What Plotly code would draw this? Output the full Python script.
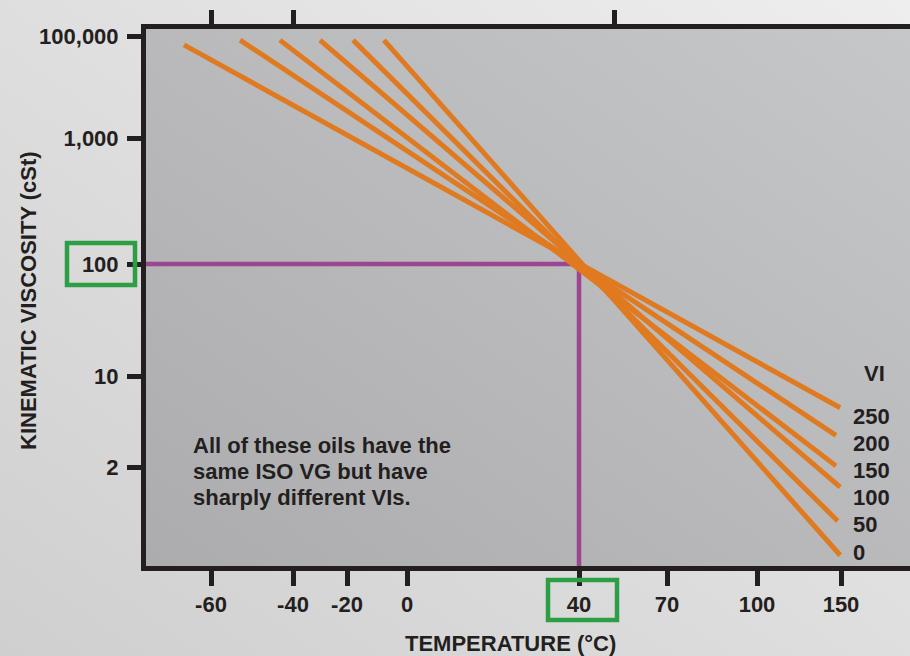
import base64
import numpy as np
import plotly.graph_objects as go

# ---------------- data ----------------
TEMP_TICKS = [-60, -40, -20, 0, 40, 70, 100, 150]
TEMP_LABELS = ["-60", "-40", "-20", "0", "40", "70", "100", "150"]
VISC_TICKS = [100000, 1000, 100, 10, 2]
VISC_LABELS = ["100,000", "1,000", "100", "10", "2"]

VI_VALUES = [250, 200, 150, 100, 50, 0]
T_START = [-66.6, -52.9, -43.2, -30.0, -18.0, -7.7]      # degC
V_START = [67000, 83000, 83000, 83000, 83000, 83000]     # cSt
T_END = [149.5, 147.0, 147.0, 149.5, 148.0, 149.5]       # degC
V_END = [5.7, 3.5, 2.04, 1.40, 0.77, 0.42]               # cSt

REF_TEMP = 40      # degC
REF_VISC = 100     # cSt (ISO VG)
TOP_TICK_TEMPS = [-60, -40, 52]

# ---------------- chart's printed (non-uniform) scales ----------------
W, H = 910, 656
ML, MR, MT, MB = 146, 0, 29, 90
PW, PH = W - ML - MR, H - MT - MB
X_SCALE_TEMPS = [-60, -40, -20, 0, 40, 70, 100, 150]
X_SCALE_POS = [65, 147, 201, 261, 433, 521, 611, 695]
Y_SCALE_LOG = list(np.log10([2, 10, 100, 1000, 100000]))
Y_SCALE_POS = [99, 190, 302, 428, 530]


def piecewise(v, src, dst):
    v = np.asarray(v, dtype=float)
    out = np.interp(v, src, dst)
    lo = v < src[0]
    hi = v > src[-1]
    s0 = (dst[1] - dst[0]) / (src[1] - src[0])
    s1 = (dst[-1] - dst[-2]) / (src[-1] - src[-2])
    out = np.where(lo, dst[0] + (v - src[0]) * s0, out)
    out = np.where(hi, dst[-1] + (v - src[-1]) * s1, out)
    return out


def sx(t):
    return piecewise(t, X_SCALE_TEMPS, X_SCALE_POS)


def sy(v):
    return piecewise(np.log10(v), Y_SCALE_LOG, Y_SCALE_POS)


def px(p):  # canvas pixel x -> paper
    return (p - ML) / PW


def py(p):  # canvas pixel y -> paper
    return (H - MB - p) / PH


INK = "#231f20"
ORANGE = "#e07a20"
PURPLE = "#9c4692"
GREEN = "#2e9e45"
FONT = dict(family="Liberation Sans, Arial, sans-serif", size=22, color=INK, weight="bold")

fig = go.Figure()

# guide line (ISO VG reference)
fig.add_trace(go.Scatter(
    x=[0, float(sx(REF_TEMP)), float(sx(REF_TEMP))],
    y=[float(sy(REF_VISC)), float(sy(REF_VISC)), 0],
    mode="lines", line=dict(color=PURPLE, width=4.5),
    showlegend=False, hoverinfo="skip"))

# VI lines
for vi, t0, v0, t1, v1 in zip(VI_VALUES, T_START, V_START, T_END, V_END):
    fig.add_trace(go.Scatter(
        x=sx([t0, t1]), y=sy([v0, v1]), mode="lines",
        line=dict(color=ORANGE, width=5), name=f"VI {vi}",
        showlegend=False))

# dummy trace for top axis
fig.add_trace(go.Scatter(x=[None], y=[None], xaxis="x2", showlegend=False, hoverinfo="skip"))

# background gradients
def svg_uri(c0, c1):
    svg = (
        '<svg xmlns="http://www.w3.org/2000/svg" width="100" height="100" preserveAspectRatio="none">'
        '<defs><linearGradient id="g" x1="0" y1="1" x2="1" y2="0">'
        f'<stop offset="0" stop-color="{c0}"/><stop offset="1" stop-color="{c1}"/>'
        '</linearGradient></defs><rect width="100" height="100" fill="url(#g)"/></svg>')
    return "data:image/svg+xml;base64," + base64.b64encode(svg.encode()).decode()


images = [
    dict(source=svg_uri("#cfcfcf", "#eeeeee"), xref="paper", yref="paper",
         x=px(0), y=py(0), sizex=W / PW, sizey=H / PH, xanchor="left", yanchor="top",
         sizing="stretch", layer="below"),
    dict(source=svg_uri("#acacae", "#c6c7c9"), xref="paper", yref="paper",
         x=0, y=1, sizex=1, sizey=1, xanchor="left", yanchor="top",
         sizing="stretch", layer="below"),
]

annotations = []
# VI labels
annotations.append(dict(text="VI", x=px(874), y=py(373), xref="paper", yref="paper",
                        showarrow=False, xanchor="center", yanchor="middle", font=FONT))
for i, vi in enumerate(VI_VALUES):
    annotations.append(dict(text=str(vi), x=px(851), y=py(416 + i * 27.2), xref="paper",
                            yref="paper", showarrow=False, xanchor="left",
                            yanchor="middle", font=FONT))
# note
for i, line in enumerate(["All of these oils have the", "same ISO VG but have",
                          "sharply different VIs."]):
    annotations.append(dict(text=line, x=px(191), y=py(445 + i * 26.3), xref="paper",
                            yref="paper", showarrow=False, xanchor="left",
                            yanchor="middle", font=FONT))
# axis titles
annotations.append(dict(text="TEMPERATURE (°C)", x=px(510), y=py(643), xref="paper",
                        yref="paper", showarrow=False, xanchor="center", yanchor="middle",
                        font=FONT))
annotations.append(dict(text="KINEMATIC VISCOSITY (cSt)", x=px(28), y=py(301), xref="paper",
                        yref="paper", showarrow=False, xanchor="center", yanchor="middle",
                        textangle=-90, font=FONT))

# green highlight boxes
y100 = float(sy(REF_VISC))
x40 = float(sx(REF_TEMP))
shapes = [
    dict(type="rect", xref="paper", yref="paper",
         x0=px(67), x1=px(135), y0=(y100 - 21) / PH, y1=(y100 + 21) / PH,
         line=dict(color=GREEN, width=4.5), layer="above"),
    dict(type="rect", xref="paper", yref="paper",
         x0=(x40 - 31) / PW, x1=(x40 + 38) / PW, y0=py(620), y1=py(580),
         line=dict(color=GREEN, width=4.5), layer="above"),
]

axis_common = dict(showgrid=False, zeroline=False, showline=True, linewidth=5,
                   linecolor=INK, ticks="outside", tickwidth=5, tickcolor=INK,
                   tickfont=FONT, fixedrange=True)

fig.update_layout(
    width=W, height=H,
    margin=dict(l=ML, r=MR, t=MT, b=MB, pad=0),
    paper_bgcolor="#e0e0e0", plot_bgcolor="rgba(0,0,0,0)",
    images=images, annotations=annotations, shapes=shapes,
    xaxis=dict(range=[0, PW], tickvals=list(sx(TEMP_TICKS)), ticktext=TEMP_LABELS,
               ticklen=15, **axis_common),
    xaxis2=dict(range=[0, PW], overlaying="x", side="top", anchor="y",
                tickvals=list(sx(TOP_TICK_TEMPS)), showticklabels=False,
                ticklen=14, **axis_common),
    yaxis=dict(range=[0, PH], tickvals=list(sy(VISC_TICKS)), ticktext=VISC_LABELS,
               ticklen=14, ticklabelstandoff=4, **axis_common),
)

fig.write_html("out.html", config={"displayModeBar": False},
               post_script="document.body.style.margin='0';document.body.style.overflow='hidden';")
